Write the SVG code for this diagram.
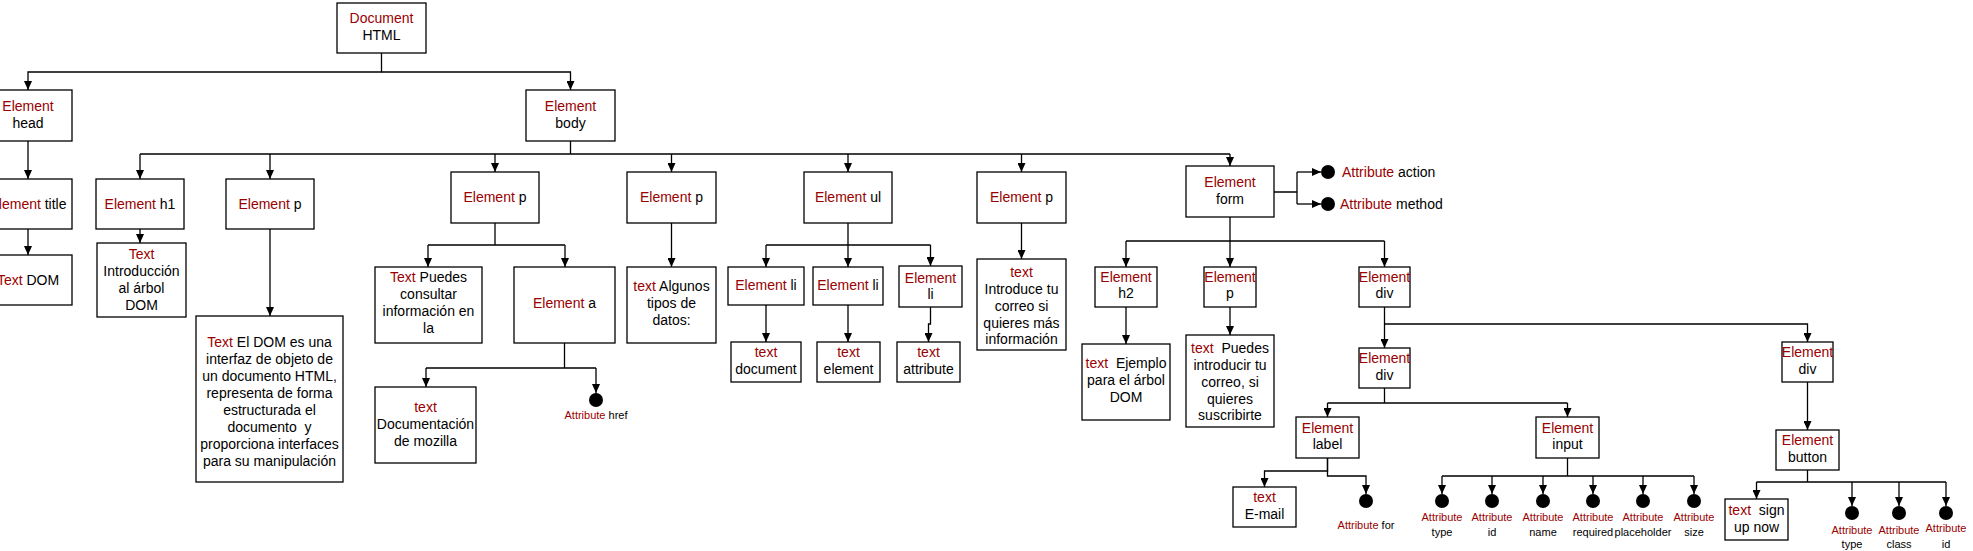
<svg xmlns="http://www.w3.org/2000/svg" width="1973" height="551" viewBox="0 0 1973 551">
<style>
.b{fill:#fff;stroke:#000;stroke-width:1.3}
.t{font-family:"Liberation Sans",Arial,sans-serif;font-size:14px;text-anchor:middle;fill:#000}
.s{font-size:11px}
.l{text-anchor:start}
.r{fill:#990000}
.c{fill:none;stroke:#000;stroke-width:1.3}
.d{fill:#000}
</style>
<defs>
<marker id="ar" markerUnits="userSpaceOnUse" markerWidth="9" markerHeight="8" refX="9" refY="4" orient="auto">
<path d="M0,0 L9,4 L0,8 z" fill="#000"/>
</marker>
</defs>
<rect width="1973" height="551" fill="#fff"/>
<g id="connectors">
<path class="c" d="M381.5 53 V72 H28 V90" marker-end="url(#ar)"/>
<path class="c" d="M381.5 72 H570.5 V90" marker-end="url(#ar)"/>
<path class="c" d="M28 141 V179" marker-end="url(#ar)"/>
<path class="c" d="M28 229 V255" marker-end="url(#ar)"/>
<path class="c" d="M570.5 141 V154 M140 154 H1230"/>
<path class="c" d="M140 154 V179" marker-end="url(#ar)"/>
<path class="c" d="M270 154 V179" marker-end="url(#ar)"/>
<path class="c" d="M495 154 V172" marker-end="url(#ar)"/>
<path class="c" d="M671.5 154 V172" marker-end="url(#ar)"/>
<path class="c" d="M848 154 V172" marker-end="url(#ar)"/>
<path class="c" d="M1021.5 154 V172" marker-end="url(#ar)"/>
<path class="c" d="M1230 154 V166" marker-end="url(#ar)"/>
<path class="c" d="M140 229 V243" marker-end="url(#ar)"/>
<path class="c" d="M270 229 V316" marker-end="url(#ar)"/>
<path class="c" d="M495 223 V245 M428 245 H565"/>
<path class="c" d="M428 245 V267" marker-end="url(#ar)"/>
<path class="c" d="M565 245 V267" marker-end="url(#ar)"/>
<path class="c" d="M564.5 343 V368 M426 368 H596"/>
<path class="c" d="M426 368 V387" marker-end="url(#ar)"/>
<path class="c" d="M596 368 V393" marker-end="url(#ar)"/>
<path class="c" d="M671.5 223 V267" marker-end="url(#ar)"/>
<path class="c" d="M848 223 V245 M766 245 H930.5"/>
<path class="c" d="M766 245 V267" marker-end="url(#ar)"/>
<path class="c" d="M848 245 V267" marker-end="url(#ar)"/>
<path class="c" d="M930.5 245 V266" marker-end="url(#ar)"/>
<path class="c" d="M766 305 V342" marker-end="url(#ar)"/>
<path class="c" d="M848 305 V342" marker-end="url(#ar)"/>
<path class="c" d="M930.5 307 V324 H928.5 V342" marker-end="url(#ar)"/>
<path class="c" d="M1021.5 223 V259" marker-end="url(#ar)"/>
<path class="c" d="M1274 192 H1297 M1297 172 V204"/>
<path class="c" d="M1297 172 H1321" marker-end="url(#ar)"/>
<path class="c" d="M1297 204 H1321" marker-end="url(#ar)"/>
<path class="c" d="M1230 217 V241 M1126 241 H1384.5"/>
<path class="c" d="M1126 241 V267" marker-end="url(#ar)"/>
<path class="c" d="M1230 241 V267" marker-end="url(#ar)"/>
<path class="c" d="M1384.5 241 V267" marker-end="url(#ar)"/>
<path class="c" d="M1126 307 V344" marker-end="url(#ar)"/>
<path class="c" d="M1230 307 V335" marker-end="url(#ar)"/>
<path class="c" d="M1384.5 307 V348" marker-end="url(#ar)"/>
<path class="c" d="M1384.5 324 H1807.5 V342" marker-end="url(#ar)"/>
<path class="c" d="M1384.5 388 V403 M1327.5 403 H1567.5"/>
<path class="c" d="M1327.5 403 V417" marker-end="url(#ar)"/>
<path class="c" d="M1567.5 403 V417" marker-end="url(#ar)"/>
<path class="c" d="M1327.5 458 V471 H1264.5 V487" marker-end="url(#ar)"/>
<path class="c" d="M1327.5 458 V476 H1366 V494" marker-end="url(#ar)"/>
<path class="c" d="M1567.5 458 V476 M1442 476 H1694"/>
<path class="c" d="M1442 476 V494" marker-end="url(#ar)"/>
<path class="c" d="M1492 476 V494" marker-end="url(#ar)"/>
<path class="c" d="M1543 476 V494" marker-end="url(#ar)"/>
<path class="c" d="M1593 476 V494" marker-end="url(#ar)"/>
<path class="c" d="M1643 476 V494" marker-end="url(#ar)"/>
<path class="c" d="M1694 476 V494" marker-end="url(#ar)"/>
<path class="c" d="M1807.5 382 V430" marker-end="url(#ar)"/>
<path class="c" d="M1807.5 470 V482 M1756.5 482 H1946"/>
<path class="c" d="M1756.5 482 V499" marker-end="url(#ar)"/>
<path class="c" d="M1852 482 V506" marker-end="url(#ar)"/>
<path class="c" d="M1899 482 V506" marker-end="url(#ar)"/>
<path class="c" d="M1946 482 V506" marker-end="url(#ar)"/>
</g>
<g id="n-document"><rect class="b" x="337" y="3" width="89" height="50"/><text class="t"><tspan class="r" x="381.5" y="23">Document</tspan><tspan x="381.5" y="40">HTML</tspan></text></g>
<g id="n-head"><rect class="b" x="-16" y="90" width="88" height="51"/><text class="t"><tspan class="r" x="28" y="111">Element</tspan><tspan x="28" y="128">head</tspan></text></g>
<g id="n-title"><rect class="b" x="-16" y="179" width="88" height="50"/><text class="t" x="28" y="209"><tspan class="r">Element</tspan> title</text></g>
<g id="n-textdom"><rect class="b" x="-16" y="255" width="88" height="50"/><text class="t" x="28" y="285"><tspan class="r">Text</tspan> DOM</text></g>
<g id="n-body"><rect class="b" x="526" y="90" width="89" height="51"/><text class="t"><tspan class="r" x="570.5" y="111">Element</tspan><tspan x="570.5" y="128">body</tspan></text></g>
<g id="n-h1"><rect class="b" x="96" y="179" width="88" height="50"/><text class="t" x="140" y="209"><tspan class="r">Element</tspan> h1</text></g>
<g id="n-textintro"><rect class="b" x="97" y="243" width="89" height="74"/><text class="t"><tspan class="r" x="141.5" y="259">Text</tspan><tspan x="141.5" y="276">Introducción</tspan><tspan x="141.5" y="293">al árbol</tspan><tspan x="141.5" y="310">DOM</tspan></text></g>
<g id="n-p1"><rect class="b" x="226" y="179" width="88" height="50"/><text class="t" x="270" y="209"><tspan class="r">Element</tspan> p</text></g>
<g id="n-textel"><rect class="b" x="196" y="316" width="147" height="166"/><text class="t"><tspan x="269.5" y="347"><tspan class="r">Text</tspan> El DOM es una</tspan><tspan x="269.5" y="364">interfaz de objeto de</tspan><tspan x="269.5" y="381">un documento HTML,</tspan><tspan x="269.5" y="398">representa de forma</tspan><tspan x="269.5" y="415">estructurada el</tspan><tspan x="269.5" y="432">documento&#160; y</tspan><tspan x="269.5" y="449">proporciona interfaces</tspan><tspan x="269.5" y="466">para su manipulación</tspan></text></g>
<g id="n-p2"><rect class="b" x="451" y="172" width="88" height="51"/><text class="t" x="495" y="202"><tspan class="r">Element</tspan> p</text></g>
<g id="n-textpuedes"><rect class="b" x="375" y="267" width="107" height="76"/><text class="t"><tspan x="428.5" y="282"><tspan class="r">Text</tspan> Puedes</tspan><tspan x="428.5" y="299">consultar</tspan><tspan x="428.5" y="316">información en</tspan><tspan x="428.5" y="333">la</tspan></text></g>
<g id="n-a"><rect class="b" x="514" y="267" width="101" height="76"/><text class="t" x="564.5" y="308"><tspan class="r">Element</tspan> a</text></g>
<g id="n-textdoc"><rect class="b" x="375" y="387" width="101" height="76"/><text class="t"><tspan class="r" x="425.5" y="412">text</tspan><tspan x="425.5" y="429">Documentación</tspan><tspan x="425.5" y="446">de mozilla</tspan></text></g>
<g id="n-href"><circle class="d" cx="596" cy="400" r="7"/><text class="t s" x="596" y="419"><tspan class="r">Attribute</tspan> href</text></g>
<g id="n-p3"><rect class="b" x="627" y="172" width="89" height="51"/><text class="t" x="671.5" y="202"><tspan class="r">Element</tspan> p</text></g>
<g id="n-textalgunos"><rect class="b" x="627" y="267" width="89" height="76"/><text class="t"><tspan x="671.5" y="291"><tspan class="r">text</tspan> Algunos</tspan><tspan x="671.5" y="308">tipos de</tspan><tspan x="671.5" y="325">datos:</tspan></text></g>
<g id="n-ul"><rect class="b" x="804" y="172" width="88" height="51"/><text class="t" x="848" y="202"><tspan class="r">Element</tspan> ul</text></g>
<g id="n-li1"><rect class="b" x="728" y="267" width="76" height="38"/><text class="t" x="766" y="290"><tspan class="r">Element</tspan> li</text></g>
<g id="n-li2"><rect class="b" x="813" y="267" width="70" height="38"/><text class="t" x="848" y="290"><tspan class="r">Element</tspan> li</text></g>
<g id="n-li3"><rect class="b" x="899" y="266" width="63" height="41"/><text class="t"><tspan class="r" x="930.5" y="283">Element</tspan><tspan x="930.5" y="299">li</tspan></text></g>
<g id="n-tdocument"><rect class="b" x="731" y="342" width="70" height="40"/><text class="t"><tspan class="r" x="766" y="357">text</tspan><tspan x="766" y="374">document</tspan></text></g>
<g id="n-telement"><rect class="b" x="817" y="342" width="63" height="40"/><text class="t"><tspan class="r" x="848.5" y="357">text</tspan><tspan x="848.5" y="374">element</tspan></text></g>
<g id="n-tattribute"><rect class="b" x="897" y="342" width="63" height="40"/><text class="t"><tspan class="r" x="928.5" y="357">text</tspan><tspan x="928.5" y="374">attribute</tspan></text></g>
<g id="n-p4"><rect class="b" x="977" y="172" width="89" height="51"/><text class="t" x="1021.5" y="202"><tspan class="r">Element</tspan> p</text></g>
<g id="n-textintroduce"><rect class="b" x="977" y="259" width="89" height="91"/><text class="t"><tspan class="r" x="1021.5" y="277">text</tspan><tspan x="1021.5" y="294">Introduce tu</tspan><tspan x="1021.5" y="311">correo si</tspan><tspan x="1021.5" y="328">quieres más</tspan><tspan x="1021.5" y="344">información</tspan></text></g>
<g id="n-form"><rect class="b" x="1186" y="166" width="88" height="51"/><text class="t"><tspan class="r" x="1230" y="187">Element</tspan><tspan x="1230" y="204">form</tspan></text></g>
<g id="n-action"><circle class="d" cx="1328" cy="172" r="7"/><text class="t l" x="1342" y="177"><tspan class="r">Attribute</tspan> action</text></g>
<g id="n-method"><circle class="d" cx="1328" cy="204" r="7"/><text class="t l" x="1340" y="209"><tspan class="r">Attribute</tspan> method</text></g>
<g id="n-h2"><rect class="b" x="1095" y="267" width="62" height="40"/><text class="t"><tspan class="r" x="1126" y="282">Element</tspan><tspan x="1126" y="298">h2</tspan></text></g>
<g id="n-p5"><rect class="b" x="1204" y="267" width="52" height="40"/><text class="t"><tspan class="r" x="1230" y="282">Element</tspan><tspan x="1230" y="298">p</tspan></text></g>
<g id="n-div1"><rect class="b" x="1359" y="267" width="51" height="40"/><text class="t"><tspan class="r" x="1384.5" y="282">Element</tspan><tspan x="1384.5" y="298">div</tspan></text></g>
<g id="n-textejemplo"><rect class="b" x="1082" y="344" width="88" height="76"/><text class="t"><tspan x="1126" y="368"><tspan class="r">text</tspan>&#160; Ejemplo</tspan><tspan x="1126" y="385">para el árbol</tspan><tspan x="1126" y="402">DOM</tspan></text></g>
<g id="n-textpuedes2"><rect class="b" x="1186" y="335" width="88" height="92"/><text class="t"><tspan x="1230" y="353"><tspan class="r">text</tspan>&#160; Puedes</tspan><tspan x="1230" y="370">introducir tu</tspan><tspan x="1230" y="387">correo, si</tspan><tspan x="1230" y="404">quieres</tspan><tspan x="1230" y="420">suscribirte</tspan></text></g>
<g id="n-div2"><rect class="b" x="1359" y="348" width="51" height="40"/><text class="t"><tspan class="r" x="1384.5" y="363">Element</tspan><tspan x="1384.5" y="380">div</tspan></text></g>
<g id="n-div3"><rect class="b" x="1782" y="342" width="51" height="40"/><text class="t"><tspan class="r" x="1807.5" y="357">Element</tspan><tspan x="1807.5" y="374">div</tspan></text></g>
<g id="n-label"><rect class="b" x="1296" y="417" width="63" height="41"/><text class="t"><tspan class="r" x="1327.5" y="433">Element</tspan><tspan x="1327.5" y="449">label</tspan></text></g>
<g id="n-input"><rect class="b" x="1536" y="417" width="63" height="41"/><text class="t"><tspan class="r" x="1567.5" y="433">Element</tspan><tspan x="1567.5" y="449">input</tspan></text></g>
<g id="n-email"><rect class="b" x="1233" y="487" width="63" height="40"/><text class="t"><tspan class="r" x="1264.5" y="502">text</tspan><tspan x="1264.5" y="519">E-mail</tspan></text></g>
<g id="n-for"><circle class="d" cx="1366" cy="501" r="7"/><text class="t s" x="1366" y="529"><tspan class="r">Attribute</tspan> for</text></g>
<g id="n-in-type"><circle class="d" cx="1442" cy="501" r="7"/><text class="t s"><tspan class="r" x="1442" y="521">Attribute</tspan><tspan x="1442" y="536">type</tspan></text></g>
<g id="n-in-id"><circle class="d" cx="1492" cy="501" r="7"/><text class="t s"><tspan class="r" x="1492" y="521">Attribute</tspan><tspan x="1492" y="536">id</tspan></text></g>
<g id="n-in-name"><circle class="d" cx="1543" cy="501" r="7"/><text class="t s"><tspan class="r" x="1543" y="521">Attribute</tspan><tspan x="1543" y="536">name</tspan></text></g>
<g id="n-in-required"><circle class="d" cx="1593" cy="501" r="7"/><text class="t s"><tspan class="r" x="1593" y="521">Attribute</tspan><tspan x="1593" y="536">required</tspan></text></g>
<g id="n-in-placeholder"><circle class="d" cx="1643" cy="501" r="7"/><text class="t s"><tspan class="r" x="1643" y="521">Attribute</tspan><tspan x="1643" y="536">placeholder</tspan></text></g>
<g id="n-in-size"><circle class="d" cx="1694" cy="501" r="7"/><text class="t s"><tspan class="r" x="1694" y="521">Attribute</tspan><tspan x="1694" y="536">size</tspan></text></g>
<g id="n-button"><rect class="b" x="1776" y="430" width="63" height="40"/><text class="t"><tspan class="r" x="1807.5" y="445">Element</tspan><tspan x="1807.5" y="462">button</tspan></text></g>
<g id="n-signup"><rect class="b" x="1725" y="499" width="63" height="41"/><text class="t"><tspan x="1756.5" y="515"><tspan class="r">text</tspan>&#160; sign</tspan><tspan x="1756.5" y="532">up now</tspan></text></g>
<g id="n-bt-type"><circle class="d" cx="1852" cy="513" r="7"/><text class="t s"><tspan class="r" x="1852" y="534">Attribute</tspan><tspan x="1852" y="548">type</tspan></text></g>
<g id="n-bt-class"><circle class="d" cx="1899" cy="513" r="7"/><text class="t s"><tspan class="r" x="1899" y="534">Attribute</tspan><tspan x="1899" y="548">class</tspan></text></g>
<g id="n-bt-id"><circle class="d" cx="1946" cy="513" r="7"/><text class="t s"><tspan class="r" x="1946" y="532">Attribute</tspan><tspan x="1946" y="548">id</tspan></text></g>
</svg>
